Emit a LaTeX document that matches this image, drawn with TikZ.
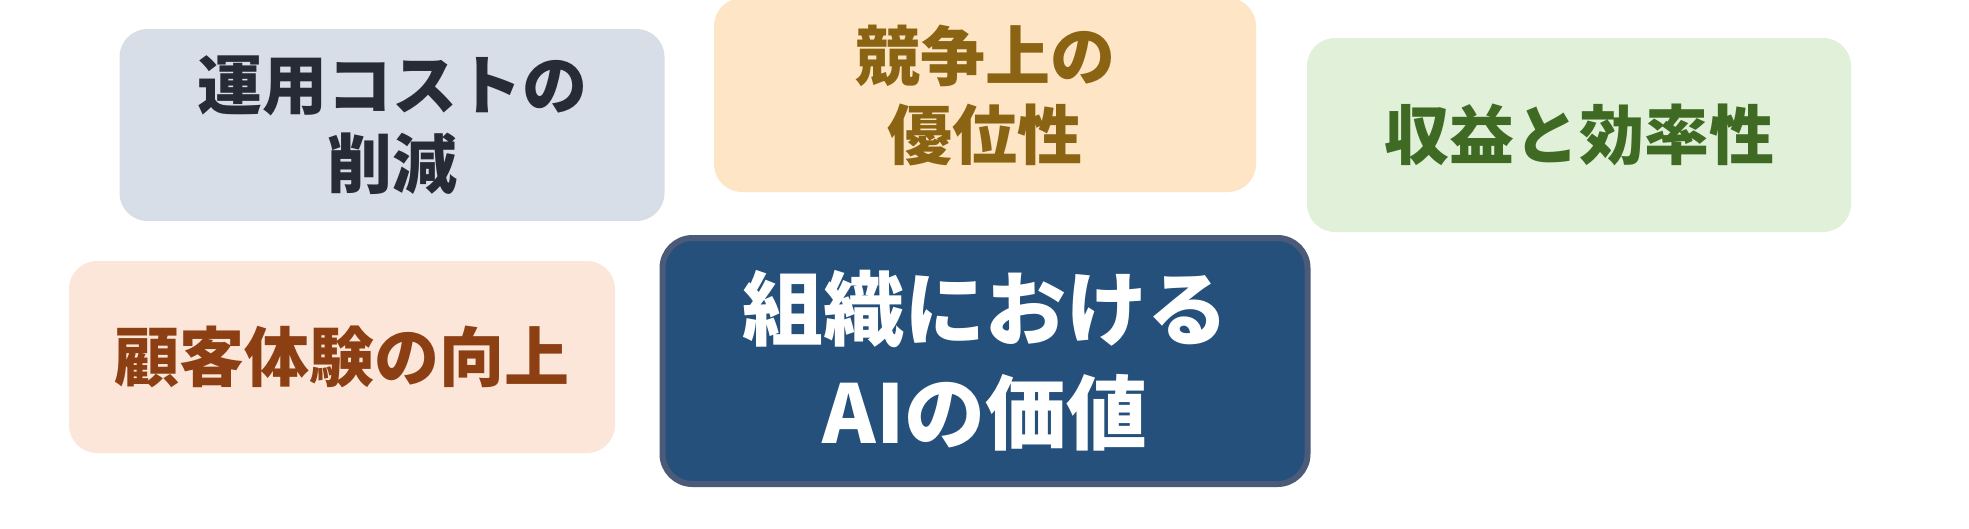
\documentclass[tikz,border=0pt]{standalone}
\usepackage{fontspec}
\newfontfamily\jp{Noto Sans CJK JP}
\definecolor{fillA}{HTML}{D8DEE7}
\definecolor{textA}{HTML}{262B36}
\definecolor{fillB}{HTML}{FDE5C6}
\definecolor{textB}{HTML}{8A6412}
\definecolor{fillC}{HTML}{E1F0D9}
\definecolor{textC}{HTML}{3F6A24}
\definecolor{fillD}{HTML}{FCE6D9}
\definecolor{textD}{HTML}{8C3F12}
\definecolor{navyfill}{HTML}{24507B}
\definecolor{navyedge}{HTML}{4A5A78}
\tikzset{
  x=1pt, y=-1pt,
  pastel/.style={rounded corners=28pt, inner sep=0pt, align=center,
    font=\jp\bfseries\fontsize{65}{79}\selectfont},
  core/.style={rounded corners=30pt, inner sep=0pt, align=center,
    draw=navyedge, line width=6pt, fill=navyfill, text=white,
    font=\jp\bfseries\fontsize{81}{104}\selectfont},
}
\begin{document}
\begin{tikzpicture}
\useasboundingbox[fill=white] (0,0) rectangle (1969,528);
\node[pastel, fill=fillA, text=textA, minimum width=545pt, minimum height=192pt] (cost) at (392,125) {運用コストの\\削減};
\node[pastel, fill=fillB, text=textB, minimum width=542pt, minimum height=194pt] (comp) at (985,95) {競争上の\\優位性};
\node[pastel, fill=fillC, text=textC, minimum width=544pt, minimum height=194pt] (rev) at (1579,135) {収益と効率性};
\node[pastel, fill=fillD, text=textD, minimum width=546pt, minimum height=192pt] (cx) at (342,357) {顧客体験の向上};
\node[core, minimum width=645pt, minimum height=246pt] (ai) at (985,361) {組織における\\AIの価値};
\end{tikzpicture}
\end{document}
